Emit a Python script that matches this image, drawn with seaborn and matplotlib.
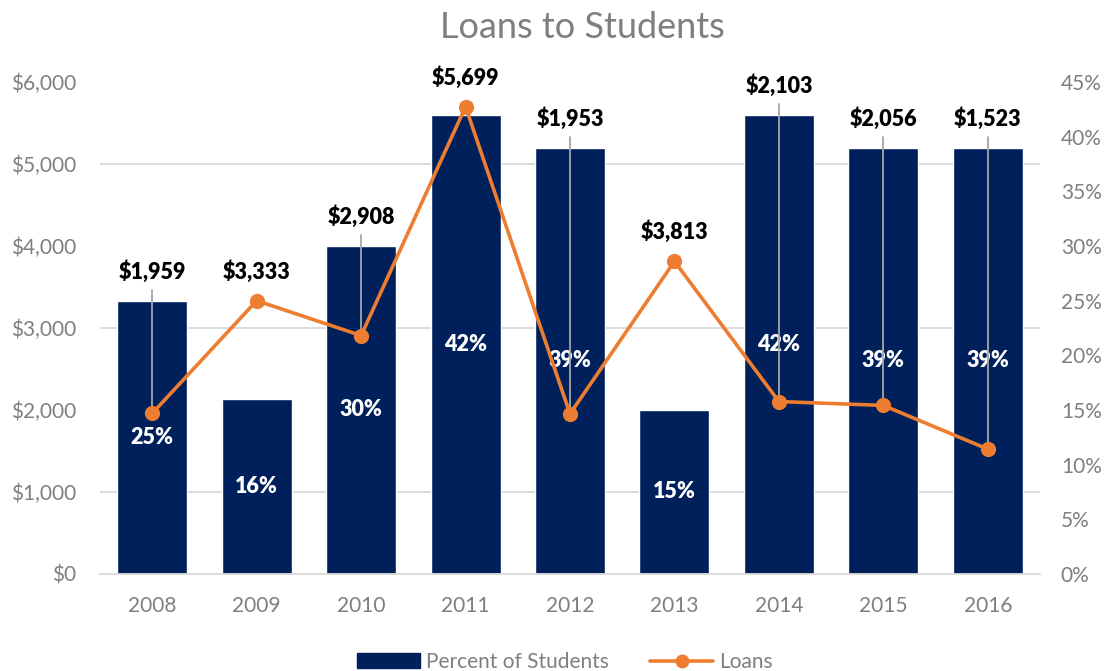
import matplotlib
matplotlib.use("Agg")
import matplotlib.pyplot as plt
from matplotlib.ticker import MultipleLocator, FuncFormatter
from matplotlib.lines import Line2D
from matplotlib.patches import Patch
import seaborn as sns

years = ["2008", "2009", "2010", "2011", "2012", "2013", "2014", "2015", "2016"]
pct_students = [25, 16, 30, 42, 39, 15, 42, 39, 39]
loans = [1959, 3333, 2908, 5699, 1953, 3813, 2103, 2056, 1523]

NAVY = "#00205B"
ORANGE = "#ED7D31"
GRAY_TXT = "#7F7F7F"
GRID = "#D9D9D9"
LOAN_MAX = 6000
PCT_MAX = 45

sns.set_theme(style="white")
plt.rcParams["font.family"] = ["Lato", "DejaVu Sans"]

fig = plt.figure(figsize=(11.12, 6.71), dpi=100)
ax = fig.add_axes([100 / 1112, 1 - 574 / 671, 940 / 1112, (574 - 82) / 671])

# bars: percent of students (right-hand scale)
sns.barplot(x=years, y=pct_students, ax=ax, color=NAVY, width=0.67,
            saturation=1, zorder=2)

# line: loans (left-hand scale)
ax2 = ax.twinx()
sns.pointplot(x=years, y=loans, ax=ax2, color=ORANGE, errorbar=None,
              markers="o", markersize=9, linewidth=2.6, zorder=4)

ax.set_ylim(0, PCT_MAX)
ax.yaxis.tick_right()
ax.yaxis.set_label_position("right")
ax.yaxis.set_major_locator(MultipleLocator(5))
ax.yaxis.set_major_formatter(FuncFormatter(lambda v, _: f"{v:.0f}%"))
# gridlines follow the loan scale ($1,000 steps)
ax.yaxis.set_minor_locator(MultipleLocator(1000 * PCT_MAX / LOAN_MAX))
ax.grid(which="minor", axis="y", color=GRID, linewidth=1.3, zorder=0)
ax.grid(which="major", visible=False)
ax.tick_params(axis="y", which="both", length=0, labelsize=15,
               labelcolor=GRAY_TXT, pad=15)
ax.tick_params(axis="x", length=0, labelsize=15, labelcolor=GRAY_TXT, pad=16)
ax.set_xlim(-0.5, len(years) - 0.5)
for s in ["top", "left", "right"]:
    ax.spines[s].set_visible(False)
ax.spines["bottom"].set_color(GRID)
ax.spines["bottom"].set_linewidth(1.3)
ax.set_xlabel("")
ax.set_ylabel("")

ax2.set_ylim(0, LOAN_MAX)
ax2.set_xlim(-0.5, len(years) - 0.5)
ax2.yaxis.tick_left()
ax2.yaxis.set_major_locator(MultipleLocator(1000))
ax2.yaxis.set_major_formatter(FuncFormatter(lambda v, _: f"${v:,.0f}"))
ax2.tick_params(axis="y", length=0, labelsize=15, labelcolor=GRAY_TXT, pad=17)
ax2.tick_params(axis="x", bottom=False, labelbottom=False)
ax2.grid(False)
for s in ax2.spines.values():
    s.set_visible(False)
ax2.set_ylabel("")
ax2.set_xlabel("")

# percent labels centred in each bar
for i, p in enumerate(pct_students):
    ax.text(i, p / 2, f"{p}%", ha="center", va="center", color="white",
            fontsize=15.5, fontweight="heavy", zorder=5)

# loan labels above whichever is higher, bar or point, with leader lines
for i, (p, v) in enumerate(zip(pct_students, loans)):
    bar_top = p * LOAN_MAX / PCT_MAX
    top = max(bar_top, v)
    label_y = top + 220
    ax2.text(i, label_y, f"${v:,}", ha="center", va="bottom", color="black",
             fontsize=15.5, fontweight="heavy", zorder=6, clip_on=False)
    if top - v > 300:
        ax2.plot([i, i], [label_y - 90, v], color="#A6A6A6", linewidth=1.3,
                 zorder=3)

fig.text(582 / 1112, 1 - 27 / 671, "Loans to Students", ha="center",
         va="center", fontsize=26, color=GRAY_TXT)

handles = [Patch(facecolor=NAVY, edgecolor=NAVY),
           Line2D([0], [0], color=ORANGE, linewidth=2.6, marker="o",
                  markersize=9)]
fig.legend(handles, ["Percent of Students", "Loans"], loc="center",
           bbox_to_anchor=(565 / 1112, 9 / 671), ncol=2, frameon=False,
           fontsize=15, labelcolor=GRAY_TXT, handlelength=3.0,
           handletextpad=0.3, columnspacing=2.0)

fig.savefig("out.png", dpi=100)
